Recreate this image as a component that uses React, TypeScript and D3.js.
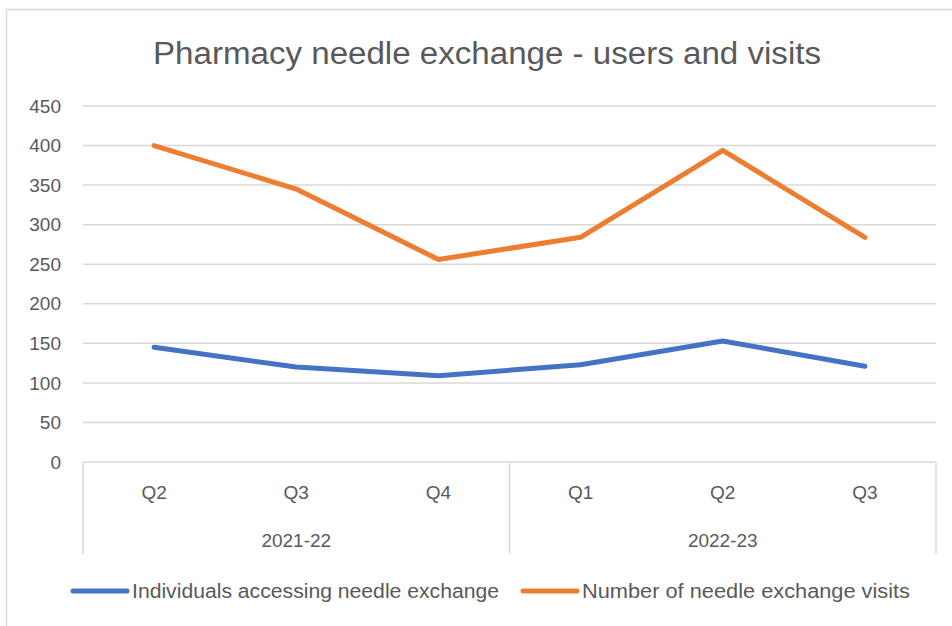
import * as React from 'react';
import * as d3 from 'd3';

const quarters = ['Q2', 'Q3', 'Q4', 'Q1', 'Q2', 'Q3'];
const years = ['2021-22', '2022-23'];
const yearSpans = [3, 3];
const individuals = [145, 120, 109, 123, 153, 121];
const visits = [400, 345, 256, 284, 394, 284];
const yTicks = [0, 50, 100, 150, 200, 250, 300, 350, 400, 450];
const seriesNames = ['Individuals accessing needle exchange', 'Number of needle exchange visits'];
const seriesColors = ['#4472C4', '#ED7D31'];

const W = 952;
const H = 626;
const FONT = "'Liberation Sans', Arial, sans-serif";

export default function App() {
    const ref = React.useRef<SVGSVGElement>(null);

    React.useEffect(() => {
        const svg = d3.select(ref.current);
        svg.selectAll('*').remove();

        const plot = { left: 83, right: 936, top: 106, bottom: 462 };

        const x = d3.scaleBand<number>()
            .domain(d3.range(quarters.length))
            .range([plot.left, plot.right]);
        const y = d3.scaleLinear().domain([0, 450]).range([plot.bottom, plot.top]);

        // chart frame
        svg.append('rect')
            .attr('x', 6.5).attr('y', 9.5)
            .attr('width', W + 20).attr('height', H + 20)
            .attr('fill', '#fff').attr('stroke', '#d9d9d9').attr('stroke-width', 1.5);

        svg.append('text')
            .attr('x', 487).attr('y', 64)
            .attr('text-anchor', 'middle')
            .attr('font-family', FONT).attr('font-size', 31)
            .attr('textLength', 668).attr('lengthAdjust', 'spacingAndGlyphs')
            .attr('fill', '#595959')
            .text('Pharmacy needle exchange - users and visits');

        // gridlines
        svg.append('g').selectAll('line')
            .data(yTicks.filter(t => t > 0))
            .join('line')
            .attr('x1', plot.left).attr('x2', plot.right)
            .attr('y1', d => y(d)).attr('y2', d => y(d))
            .attr('stroke', '#d9d9d9').attr('stroke-width', 1.5);

        svg.append('g').selectAll('text')
            .data(yTicks)
            .join('text')
            .attr('x', 61).attr('y', d => y(d))
            .attr('dy', '0.35em')
            .attr('text-anchor', 'end')
            .attr('font-family', FONT).attr('font-size', 19)
            .attr('fill', '#595959')
            .text(d => d);

        // category axis
        const axisBottom = 554;
        const ax = svg.append('g').attr('stroke', '#d9d9d9').attr('stroke-width', 1.5);
        ax.append('line')
            .attr('x1', plot.left).attr('x2', plot.right)
            .attr('y1', plot.bottom).attr('y2', plot.bottom);
        let acc = 0;
        const seps = [0];
        yearSpans.forEach(s => { acc += s; seps.push(acc); });
        seps.forEach(i => {
            const px = i < quarters.length ? x(i)! : plot.right;
            ax.append('line')
                .attr('x1', px).attr('x2', px)
                .attr('y1', plot.bottom).attr('y2', axisBottom);
        });

        svg.append('g').selectAll('text')
            .data(quarters)
            .join('text')
            .attr('x', (d, i) => x(i)! + x.bandwidth() / 2)
            .attr('y', 492).attr('dy', '0.35em')
            .attr('text-anchor', 'middle')
            .attr('font-family', FONT).attr('font-size', 19)
            .attr('fill', '#595959')
            .text(d => d);

        svg.append('g').selectAll('text')
            .data(years)
            .join('text')
            .attr('x', (d, i) => {
                const a = x(seps[i])!;
                const b = seps[i + 1] < quarters.length ? x(seps[i + 1])! : plot.right;
                return (a + b) / 2;
            })
            .attr('y', 540).attr('dy', '0.35em')
            .attr('text-anchor', 'middle')
            .attr('font-family', FONT).attr('font-size', 19)
            .attr('fill', '#595959')
            .text(d => d);

        // lines
        const line = d3.line<number>()
            .x((d, i) => x(i)! + x.bandwidth() / 2)
            .y(d => y(d));
        [individuals, visits].forEach((s, k) => {
            svg.append('path')
                .attr('d', line(s))
                .attr('fill', 'none')
                .attr('stroke', seriesColors[k])
                .attr('stroke-width', 5)
                .attr('stroke-linecap', 'round')
                .attr('stroke-linejoin', 'round');
        });

        // legend
        const legendX = [73, 523];
        const legendLen = [367, 328];
        seriesNames.forEach((name, k) => {
            const g = svg.append('g').attr('transform', `translate(${legendX[k]},591)`);
            g.append('line')
                .attr('x1', 0).attr('x2', 54)
                .attr('stroke', seriesColors[k]).attr('stroke-width', 5)
                .attr('stroke-linecap', 'round');
            g.append('text')
                .attr('x', 59).attr('dy', '0.35em')
                .attr('font-family', FONT).attr('font-size', 20)
                .attr('textLength', legendLen[k]).attr('lengthAdjust', 'spacingAndGlyphs')
                .attr('fill', '#595959')
                .text(name);
        });
    }, []);

    return (
        <svg ref={ref} width={W} height={H}
            style={{ position: 'absolute', left: 0, top: 0, background: '#fff' }} />
    );
}
